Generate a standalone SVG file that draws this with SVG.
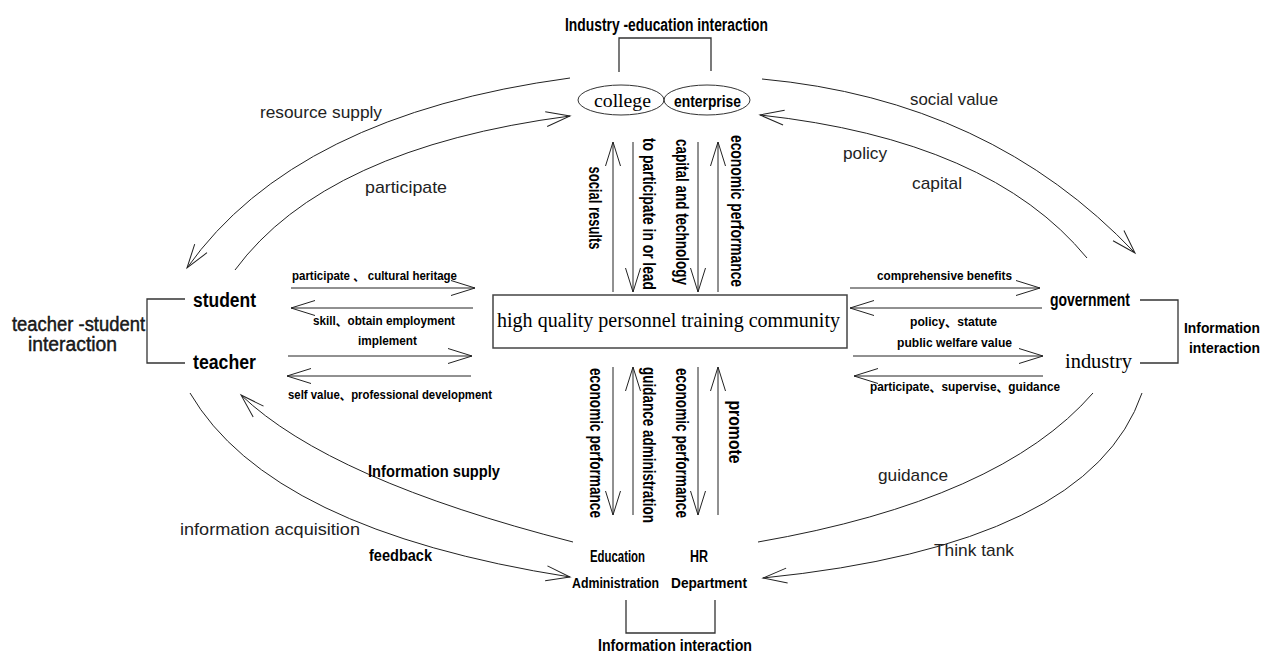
<svg xmlns="http://www.w3.org/2000/svg" width="1272" height="654" viewBox="0 0 1272 654">
<defs>
<marker id="ah" markerUnits="userSpaceOnUse" orient="auto" markerWidth="30" markerHeight="20" refX="0" refY="0" viewBox="-26 -10 28 20" overflow="visible">
<path d="M-24,-7.5 L0,0 L-24,7.5" fill="none" stroke="#222" stroke-width="1"/>
</marker>
<style>
.ln{fill:none;stroke:#222;stroke-width:1}
.br{fill:none;stroke:#333;stroke-width:1.3}
.b{font-family:"Liberation Sans","Noto Sans CJK SC",sans-serif;font-weight:bold;fill:#000}
.r{font-family:"Liberation Sans","Noto Sans CJK SC",sans-serif;fill:#222}
.s{font-family:"Liberation Serif","Noto Sans CJK SC",serif;fill:#000}
.sm{font-size:13px}
.v{font-size:19px}
</style>
</defs>
<rect width="1272" height="654" fill="#fff"/>

<g id="connectors">
<path class="ln" d="M291,288 H475" marker-end="url(#ah)"/>
<path class="ln" d="M473,308 H291" marker-end="url(#ah)"/>
<path class="ln" d="M288,356 H472" marker-end="url(#ah)"/>
<path class="ln" d="M471,376 H287" marker-end="url(#ah)"/>
<path class="ln" d="M850,288 H1040" marker-end="url(#ah)"/>
<path class="ln" d="M1042,308 H850" marker-end="url(#ah)"/>
<path class="ln" d="M853,356 H1043" marker-end="url(#ah)"/>
<path class="ln" d="M1043,376 H854" marker-end="url(#ah)"/>
<path class="ln" d="M613,292 V142" marker-end="url(#ah)"/>
<path class="ln" d="M633,142 V292" marker-end="url(#ah)"/>
<path class="ln" d="M698,142 V292" marker-end="url(#ah)"/>
<path class="ln" d="M718,292 V142" marker-end="url(#ah)"/>
<path class="ln" d="M613,367 V515" marker-end="url(#ah)"/>
<path class="ln" d="M633,515 V367" marker-end="url(#ah)"/>
<path class="ln" d="M698,367 V515" marker-end="url(#ah)"/>
<path class="ln" d="M718,515 V367" marker-end="url(#ah)"/>
<path class="ln" d="M570,78 Q295,115 187,268" marker-end="url(#ah)"/>
<path class="ln" d="M235,270 Q325,148 570,116" marker-end="url(#ah)"/>
<path class="ln" d="M762,79 Q990,100 1135,253" marker-end="url(#ah)"/>
<path class="ln" d="M1087,258 Q990,140 760,115" marker-end="url(#ah)"/>
<path class="ln" d="M573,542 Q330,480 241,395" marker-end="url(#ah)"/>
<path class="ln" d="M190,393 Q270,530 570,577" marker-end="url(#ah)"/>
<path class="ln" d="M1093,393 Q1000,500 758,542"/>
<path class="ln" d="M1142,393 Q1090,545 763,578" marker-end="url(#ah)"/>
<path class="br" d="M619,72 V38 H711 V71"/>
<path class="br" d="M185,299 H147 V363 H185"/>
<path class="br" d="M1140,300 H1178 V363 H1140"/>
<path class="br" d="M626,600 V633 H715 V600"/>
</g>

<g id="labels">
<text class="b sm" x="292" y="280" textLength="165" lengthAdjust="spacingAndGlyphs">participate 、 cultural heritage</text>
<text class="b sm" x="313" y="325" textLength="142" lengthAdjust="spacingAndGlyphs">skill、obtain employment</text>
<text class="b sm" x="358" y="345" textLength="59" lengthAdjust="spacingAndGlyphs">implement</text>
<text class="b sm" x="288" y="399" textLength="204" lengthAdjust="spacingAndGlyphs">self value、professional development</text>
<text class="b sm" x="877" y="280" textLength="135" lengthAdjust="spacingAndGlyphs">comprehensive benefits</text>
<text class="b sm" x="910" y="326" textLength="87" lengthAdjust="spacingAndGlyphs">policy、statute</text>
<text class="b sm" x="897" y="347" textLength="115" lengthAdjust="spacingAndGlyphs">public welfare value</text>
<text class="b sm" x="870" y="391" textLength="190" lengthAdjust="spacingAndGlyphs">participate、supervise、guidance</text>
<text class="b v" transform="translate(589,208) rotate(90)" text-anchor="middle" textLength="83" lengthAdjust="spacingAndGlyphs">social results</text>
<text class="b v" transform="translate(643,214) rotate(90)" text-anchor="middle" textLength="152" lengthAdjust="spacingAndGlyphs">to participate in or lead</text>
<text class="b v" transform="translate(676,212) rotate(90)" text-anchor="middle" textLength="146" lengthAdjust="spacingAndGlyphs">capital and technology</text>
<text class="b v" transform="translate(731,211) rotate(90)" text-anchor="middle" textLength="152" lengthAdjust="spacingAndGlyphs">economic performance</text>
<text class="b v" transform="translate(590,443) rotate(90)" text-anchor="middle" textLength="150" lengthAdjust="spacingAndGlyphs">economic performance</text>
<text class="b v" transform="translate(643,445) rotate(90)" text-anchor="middle" textLength="156" lengthAdjust="spacingAndGlyphs">guidance administration</text>
<text class="b v" transform="translate(676,443) rotate(90)" text-anchor="middle" textLength="150" lengthAdjust="spacingAndGlyphs">economic performance</text>
<text class="b v" transform="translate(729,432) rotate(90)" text-anchor="middle" textLength="63" lengthAdjust="spacingAndGlyphs">promote</text>
<text class="r" x="260" y="118" font-size="17" textLength="122" lengthAdjust="spacingAndGlyphs">resource supply</text>
<text class="r" x="365" y="193" font-size="17" textLength="82" lengthAdjust="spacingAndGlyphs">participate</text>
<text class="r" x="910" y="105" font-size="17" textLength="88" lengthAdjust="spacingAndGlyphs">social value</text>
<text class="r" x="843" y="159" font-size="17" textLength="44" lengthAdjust="spacingAndGlyphs">policy</text>
<text class="r" x="912" y="189" font-size="17" textLength="50" lengthAdjust="spacingAndGlyphs">capital</text>
<text class="b" x="368" y="477" font-size="16" textLength="132" lengthAdjust="spacingAndGlyphs">Information supply</text>
<text class="r" x="180" y="535" font-size="17" textLength="180" lengthAdjust="spacingAndGlyphs">information acquisition</text>
<text class="b" x="369" y="561" font-size="16" textLength="63" lengthAdjust="spacingAndGlyphs">feedback</text>
<text class="r" x="878" y="481" font-size="17" textLength="70" lengthAdjust="spacingAndGlyphs">guidance</text>
<text class="r" x="934" y="556" font-size="17" textLength="80" lengthAdjust="spacingAndGlyphs">Think tank</text>
<text class="b" x="565" y="31" font-size="18" textLength="203" lengthAdjust="spacingAndGlyphs">Industry -education interaction</text>
<text class="r" x="12" y="331" font-size="20" fill="#000" stroke="#000" stroke-width="0.4" textLength="133" lengthAdjust="spacingAndGlyphs">teacher -student</text>
<text class="r" x="28" y="351" font-size="20" fill="#000" stroke="#000" stroke-width="0.4" textLength="89" lengthAdjust="spacingAndGlyphs">interaction</text>
<text class="b" x="1184" y="333" font-size="15" textLength="76" lengthAdjust="spacingAndGlyphs">Information</text>
<text class="b" x="1189" y="353" font-size="15" textLength="71" lengthAdjust="spacingAndGlyphs">interaction</text>
<text class="b" x="598" y="651" font-size="17" textLength="154" lengthAdjust="spacingAndGlyphs">Information interaction</text>
</g>

<g id="community">
<rect x="493" y="295" width="354" height="53" fill="#fff" stroke="#444" stroke-width="1.5"/>
<text class="s" x="497" y="327" font-size="21" textLength="343" lengthAdjust="spacingAndGlyphs">high quality personnel training community</text>
</g>
<g id="college">
<ellipse cx="621" cy="100" rx="43" ry="15" fill="none" stroke="#333" stroke-width="1"/>
<text class="s" x="594" y="107" font-size="18" textLength="57" lengthAdjust="spacingAndGlyphs">college</text>
</g>
<g id="enterprise">
<ellipse cx="707" cy="100" rx="43" ry="15" fill="none" stroke="#333" stroke-width="1"/>
<text class="b" x="674" y="107" font-size="17" textLength="67" lengthAdjust="spacingAndGlyphs">enterprise</text>
</g>
<g id="student">
<text class="b" x="193" y="307" font-size="20" textLength="63" lengthAdjust="spacingAndGlyphs">student</text>
</g>
<g id="teacher">
<text class="b" x="193" y="369" font-size="20" textLength="63" lengthAdjust="spacingAndGlyphs">teacher</text>
</g>
<g id="government">
<text class="b" x="1050" y="306" font-size="19" textLength="80" lengthAdjust="spacingAndGlyphs">government</text>
</g>
<g id="industry">
<text class="s" x="1065" y="368" font-size="20" textLength="67" lengthAdjust="spacingAndGlyphs">industry</text>
</g>
<g id="education-administration">
<text class="b" x="590" y="562" font-size="16" textLength="55" lengthAdjust="spacingAndGlyphs">Education</text>
<text class="b" x="572" y="588" font-size="14" textLength="87" lengthAdjust="spacingAndGlyphs">Administration</text>
</g>
<g id="hr-department">
<text class="b" x="690" y="562" font-size="16" textLength="18" lengthAdjust="spacingAndGlyphs">HR</text>
<text class="b" x="671" y="588" font-size="15" textLength="76" lengthAdjust="spacingAndGlyphs">Department</text>
</g>
</svg>
